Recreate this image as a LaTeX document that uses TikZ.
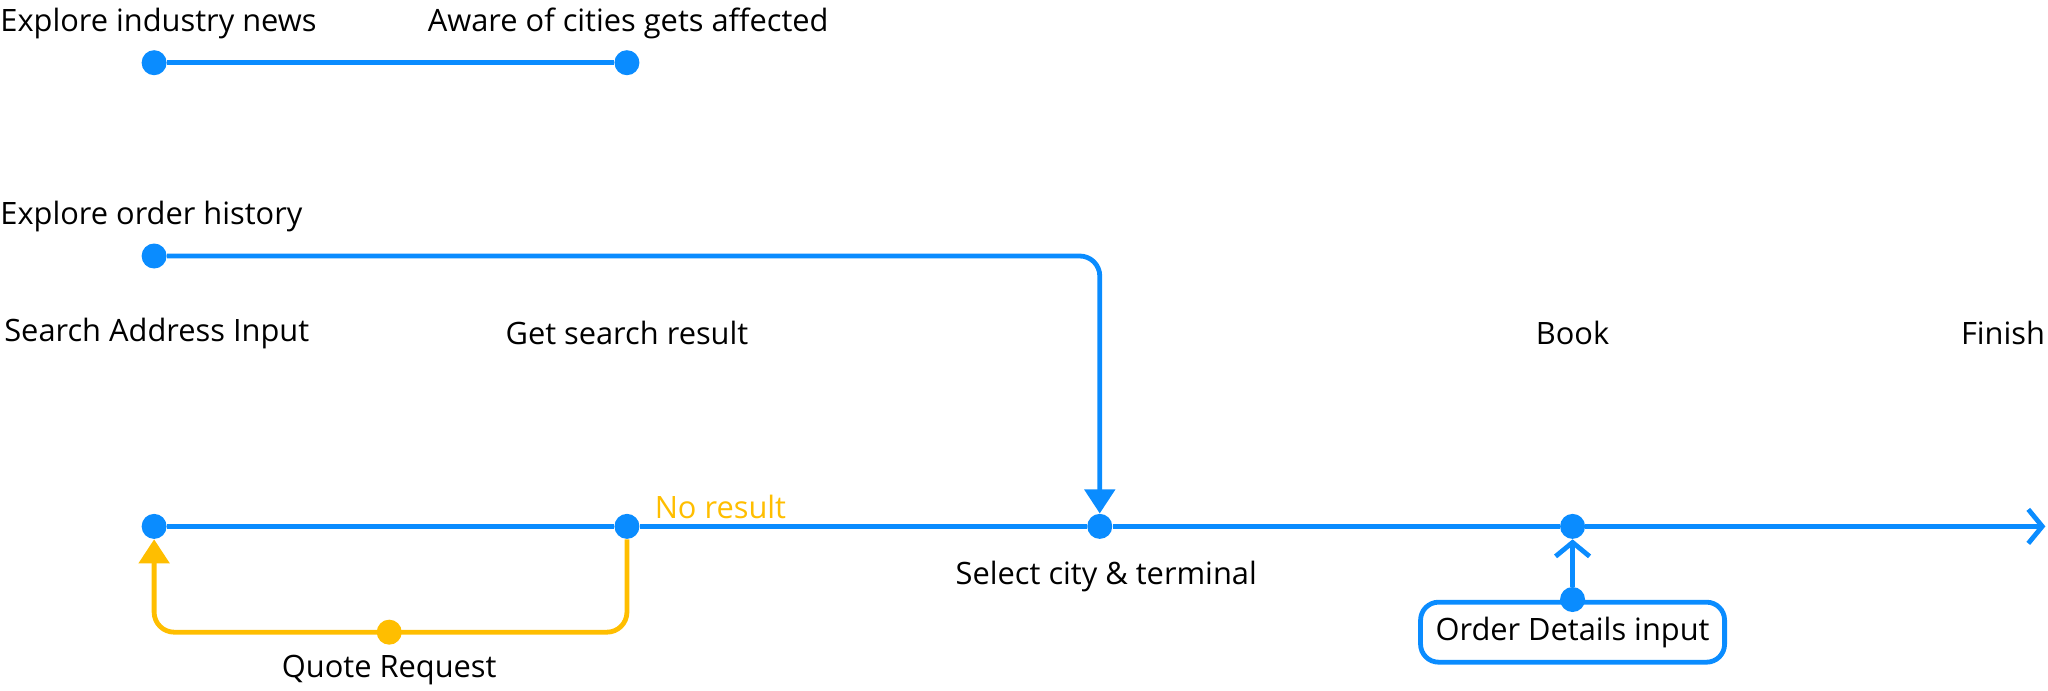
\documentclass[tikz,border=0pt]{standalone}
\usepackage{fontspec}
\setmainfont{Open Sans}
\usetikzlibrary{arrows.meta}
\definecolor{bl}{HTML}{0A8CFF}
\definecolor{yl}{HTML}{FFBE00}
\tikzset{x=0.653pt,y=-0.653pt,
 ln/.style={line width=2.4pt,bl},
 yln/.style={line width=2.4pt,yl},
 dot/.style={circle,fill=bl,inner sep=0pt,minimum size=12.5pt},
 ydot/.style={circle,fill=yl,inner sep=0pt,minimum size=12.5pt},
 lbl/.style={font=\fontsize{15.4pt}{18pt}\selectfont,inner sep=0pt,text=black}}
\begin{document}
\begin{tikzpicture}
\useasboundingbox (0,0) rectangle (1568,529);
% row 1
\node[dot] (a1) at (118,48) {};
\node[dot] (a2) at (480,48) {};
\draw[ln] (a1) -- (a2);
\node[lbl,anchor=west] at (0,18) {Explore industry news};
\node[lbl] at (481,18) {Aware of cities gets affected};
% main line
\node[dot] (s) at (118,403) {};
\node[dot] (g) at (480,403) {};
\node[dot] (c) at (842,403) {};
\node[dot] (b) at (1204,403) {};
\coordinate (f) at (1566,403);
\draw[ln] (s) -- (g) -- (c) -- (b);
\draw[ln,-{Straight Barb[length=7pt,width=17pt]}] (b) -- (f);
\node[lbl,anchor=west] at (3,255) {Search Address Input};
\node[lbl] at (480,255) {Get search result};
\node[lbl] at (847,441) {Select city \& terminal};
\node[lbl] at (1204,255) {Book};
\node[lbl,anchor=east] at (1566,255) {Finish};
% order history
\node[dot] (h) at (118,196) {};
\node[lbl,anchor=west] at (0,166) {Explore order history};
\draw[ln,rounded corners=10pt,-{Triangle[length=12pt,width=15pt]}] (h) -- (842,196) -- (c.north);
% yellow loop
\node[ydot] (q) at (298,484) {};
\draw[yln,rounded corners=10pt,-{Triangle[length=12pt,width=15pt]}] (g.south) -- (480,484) -- (118,484) -- (s.south);
\node[lbl,text=yl,anchor=west] at (501,388) {No result};
\node[lbl] at (298,513) {Quote Request};
% order details
\node[lbl,draw=bl,line width=2.4pt,rounded corners=9pt,minimum width=152pt,minimum height=30pt] (o) at (1204,484) {Order Details input};
\node[dot] (od) at (1204,459) {};
\draw[ln,-{Straight Barb[length=7pt,width=17pt]}] (od) -- (b.south);
\end{tikzpicture}
\end{document}
